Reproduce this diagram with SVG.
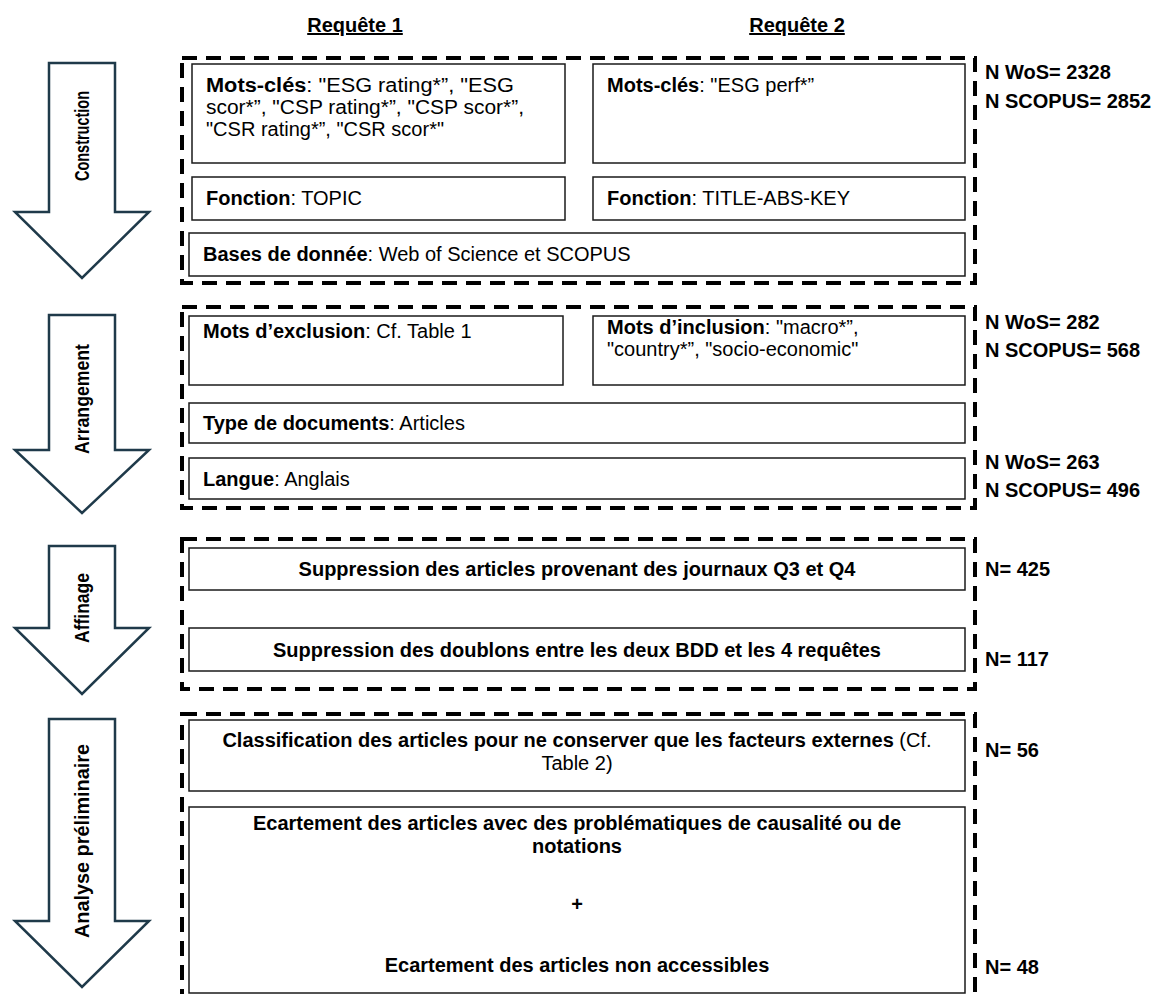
<svg xmlns="http://www.w3.org/2000/svg" width="1162" height="994" viewBox="0 0 1162 994">
<defs>
<style>
.t{font-family:"Liberation Sans",Arial,sans-serif;font-size:20px;fill:#000}
.b{font-weight:bold}
.c{text-anchor:middle}
.h{font-weight:bold;text-decoration:underline}
.lbl{font-family:"Liberation Sans",Arial,sans-serif;font-size:20px;font-weight:bold;fill:#000;text-anchor:middle}
.box{fill:#fff;stroke:#1a1a1a;stroke-width:1.5}
.dash{fill:none;stroke:#000;stroke-width:4;stroke-dasharray:15 9}
.arr{fill:#fff;stroke:#1f3a4a;stroke-width:2.5;stroke-linejoin:miter}
</style>
</defs>
<rect width="1162" height="994" fill="#fff"/>

<g id="headers">
<text class="t h c" x="355" y="32">Requête 1</text>
<text class="t h c" x="797" y="32">Requête 2</text>
</g>

<g id="arrow-construction">
<path class="arr" d="M49,63 H115 V212 H149 L82,278 L15,212 H49 Z"/>
<text class="lbl" transform="translate(82,136) rotate(-90)" y="7" textLength="90" lengthAdjust="spacingAndGlyphs">Construction</text>
</g>
<g id="arrow-arrangement">
<path class="arr" d="M49,315 H115 V450 H149 L82,513 L15,450 H49 Z"/>
<text class="lbl" transform="translate(82,399) rotate(-90)" y="7" textLength="110" lengthAdjust="spacingAndGlyphs">Arrangement</text>
</g>
<g id="arrow-affinage">
<path class="arr" d="M49,546 H115 V628 H149 L82,694 L15,628 H49 Z"/>
<text class="lbl" transform="translate(82,608) rotate(-90)" y="7" textLength="70" lengthAdjust="spacingAndGlyphs">Affinage</text>
</g>
<g id="arrow-analyse">
<path class="arr" d="M49,719 H115 V921 H149 L82,987 L15,921 H49 Z"/>
<text class="lbl" transform="translate(82,841) rotate(-90)" y="7" textLength="194" lengthAdjust="spacingAndGlyphs">Analyse préliminaire</text>
</g>

<g id="frames">
<rect class="dash" x="182" y="58" width="793" height="225"/>
<rect class="dash" x="182" y="307" width="793" height="201"/>
<rect class="dash" x="182" y="539" width="793" height="150"/>
<rect class="dash" x="182" y="714" width="793" height="300"/>
</g>

<g id="construction">
<g id="motscles-r1">
<rect class="box" x="192" y="64" width="373" height="99"/>
<text class="t" x="206" y="92" textLength="308" lengthAdjust="spacingAndGlyphs"><tspan class="b">Mots-clés</tspan>: "ESG rating*”, "ESG</text>
<text class="t" x="206" y="114" textLength="318" lengthAdjust="spacingAndGlyphs">scor*”, "CSP rating*”, "CSP scor*”,</text>
<text class="t" x="206" y="136">"CSR rating*”, "CSR scor*"</text>
</g>
<g id="motscles-r2">
<rect class="box" x="593" y="64" width="372" height="99"/>
<text class="t" x="607" y="92"><tspan class="b">Mots-clés</tspan>: "ESG perf*”</text>
</g>
<g id="fonction-r1">
<rect class="box" x="192" y="177" width="373" height="43"/>
<text class="t" x="206" y="205"><tspan class="b">Fonction</tspan>: TOPIC</text>
</g>
<g id="fonction-r2">
<rect class="box" x="593" y="177" width="372" height="43"/>
<text class="t" x="607" y="205"><tspan class="b">Fonction</tspan>: TITLE-ABS-KEY</text>
</g>
<g id="bases">
<rect class="box" x="189" y="233" width="776" height="43"/>
<text class="t" x="203" y="261"><tspan class="b">Bases de donnée</tspan>: Web of Science et SCOPUS</text>
</g>
<g id="n-construction">
<text class="t b" x="985" y="79">N WoS= 2328</text>
<text class="t b" x="985" y="108">N SCOPUS= 2852</text>
</g>
</g>

<g id="arrangement">
<g id="exclusion">
<rect class="box" x="189" y="316" width="374" height="69"/>
<text class="t" x="203" y="338"><tspan class="b">Mots d’exclusion</tspan>: Cf. Table 1</text>
</g>
<g id="inclusion">
<rect class="box" x="593" y="316" width="372" height="69"/>
<text class="t" x="607" y="334"><tspan class="b">Mots d’inclusion</tspan>: "macro*”,</text>
<text class="t" x="607" y="356">"country*”, "socio-economic"</text>
</g>
<g id="type">
<rect class="box" x="189" y="403" width="776" height="40"/>
<text class="t" x="203" y="430"><tspan class="b">Type de documents</tspan>: Articles</text>
</g>
<g id="langue">
<rect class="box" x="189" y="458" width="776" height="41"/>
<text class="t" x="203" y="486"><tspan class="b">Langue</tspan>: Anglais</text>
</g>
<g id="n-arrangement">
<text class="t b" x="985" y="329">N WoS= 282</text>
<text class="t b" x="985" y="357">N SCOPUS= 568</text>
<text class="t b" x="985" y="469">N WoS= 263</text>
<text class="t b" x="985" y="497">N SCOPUS= 496</text>
</g>
</g>

<g id="affinage">
<g id="q3q4">
<rect class="box" x="189" y="548" width="776" height="42"/>
<text class="t b c" x="577" y="576">Suppression des articles provenant des journaux Q3 et Q4</text>
</g>
<g id="doublons">
<rect class="box" x="189" y="628" width="776" height="43"/>
<text class="t b c" x="577" y="657">Suppression des doublons entre les deux BDD et les 4 requêtes</text>
</g>
<text class="t b" x="985" y="576">N= 425</text>
<text class="t b" x="985" y="666">N= 117</text>
</g>

<g id="analyse">
<g id="classification">
<rect class="box" x="189" y="720" width="776" height="71"/>
<text class="t c" x="577" y="747"><tspan class="b">Classification des articles pour ne conserver que les facteurs externes</tspan> (Cf.</text>
<text class="t c" x="577" y="770">Table 2)</text>
</g>
<g id="ecartement">
<rect class="box" x="189" y="807" width="776" height="186"/>
<text class="t b c" x="577" y="830">Ecartement des articles avec des problématiques de causalité ou de</text>
<text class="t b c" x="577" y="853">notations</text>
<text class="t b c" x="577" y="911">+</text>
<text class="t b c" x="577" y="972">Ecartement des articles non accessibles</text>
</g>
<text class="t b" x="985" y="757">N= 56</text>
<text class="t b" x="985" y="974">N= 48</text>
</g>
</svg>
